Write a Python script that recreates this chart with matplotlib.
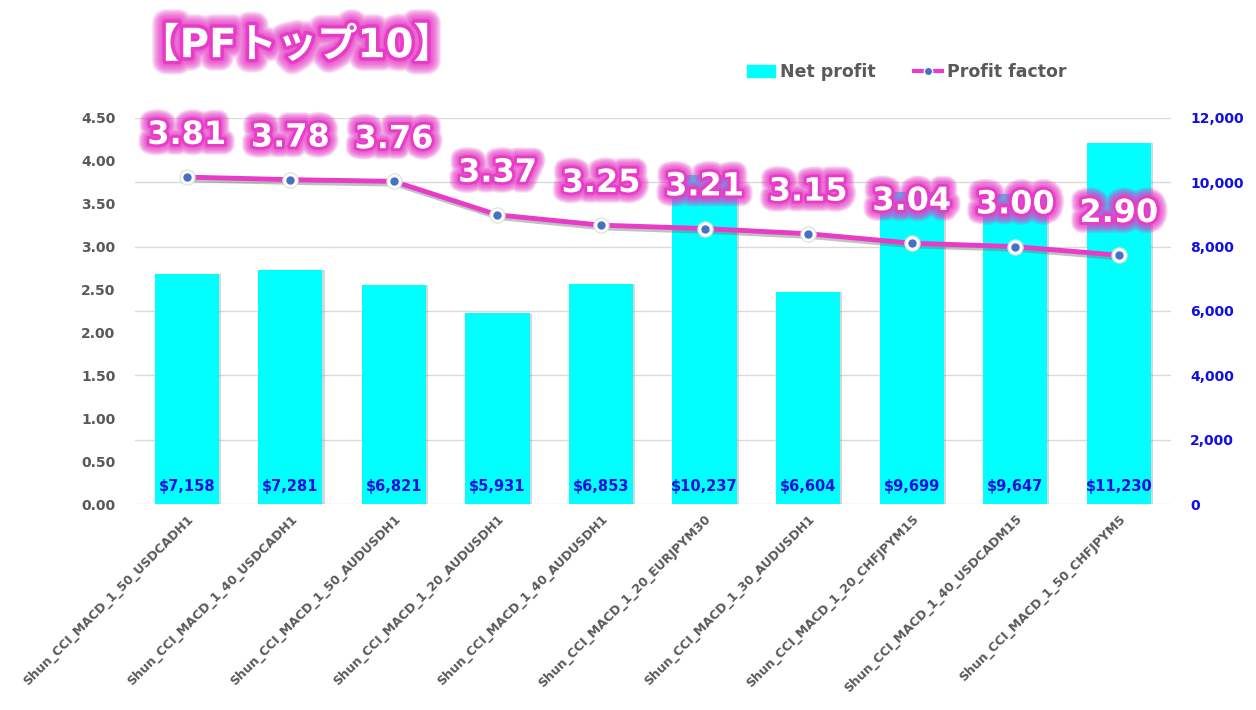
import matplotlib.pyplot as plt
import matplotlib.patheffects as pe
from matplotlib.patches import Patch
from matplotlib.lines import Line2D
from matplotlib.ticker import FuncFormatter

plt.rcParams['font.family'] = ['DejaVu Sans', 'Noto Sans CJK JP']

strategies = [
    "Shun_CCI_MACD_1_50_USDCADH1",
    "Shun_CCI_MACD_1_40_USDCADH1",
    "Shun_CCI_MACD_1_50_AUDUSDH1",
    "Shun_CCI_MACD_1_20_AUDUSDH1",
    "Shun_CCI_MACD_1_40_AUDUSDH1",
    "Shun_CCI_MACD_1_20_EURJPYM30",
    "Shun_CCI_MACD_1_30_AUDUSDH1",
    "Shun_CCI_MACD_1_20_CHFJPYM15",
    "Shun_CCI_MACD_1_40_USDCADM15",
    "Shun_CCI_MACD_1_50_CHFJPYM5",
]
net_profit = [7158, 7281, 6821, 5931, 6853, 10237, 6604, 9699, 9647, 11230]
profit_factor = [3.81, 3.78, 3.76, 3.37, 3.25, 3.21, 3.15, 3.04, 3.00, 2.90]

MAGENTA = "#E83BC8"
CYAN = "#00FFFF"
GRAY = "#595959"
BLUE = "#1010E0"
DOT = "#4472C4"


def glow(color, width=14, steps=12, core=4):
    # soft halo: many wide strokes with low alpha, then a solid core outline
    effects = []
    for i in range(steps, 0, -1):
        w = core + (width - core) * i / steps
        effects.append(pe.Stroke(linewidth=w, foreground=color, alpha=0.12, joinstyle="round"))
    effects.append(pe.Stroke(linewidth=core, foreground=color, joinstyle="round"))
    effects.append(pe.Normal())
    return effects


fig = plt.figure(figsize=(12.56, 7.10), dpi=100)
ax = fig.add_axes([0.1075, 0.290, 0.8245, 0.544])
ax2 = ax.twinx()
ax.set_zorder(ax2.get_zorder() + 1)
ax.patch.set_visible(False)

x = list(range(len(strategies)))

# bars on the right axis
ax2.bar(x, net_profit, width=0.62, color=CYAN, zorder=2,
        path_effects=[pe.SimplePatchShadow(offset=(1.5, -0.5), shadow_rgbFace="#999999", alpha=0.4),
                      pe.Normal()])
ax2.set_ylim(0, 12000)
ax2.set_yticks(range(0, 12001, 2000))
ax2.yaxis.set_major_formatter(FuncFormatter(lambda v, p: f"{int(v):,}"))
ax2.grid(axis="y", color="#d9d9d9", linewidth=1)
ax2.set_axisbelow(True)
for lbl in ax2.get_yticklabels():
    lbl.set_fontweight("bold")
ax2.tick_params(axis="y", colors=BLUE, labelsize=10, length=0, pad=14)

for xi, v in zip(x, net_profit):
    ax2.annotate(f"${v:,}", (xi, 0), xytext=(0, 7), textcoords="offset points",
                 ha="center", va="bottom", color=BLUE, fontsize=10.5, fontweight="bold")

# profit factor line on the left axis
ax.plot(x, profit_factor, color=MAGENTA, linewidth=3.5, zorder=3,
        path_effects=[pe.SimpleLineShadow(offset=(1.2, -2), shadow_color="#777777", alpha=0.45),
                      pe.Normal()])
ax.plot(x, profit_factor, linestyle="none", marker="o", markersize=11,
        markerfacecolor="white", markeredgecolor="#dddddd", markeredgewidth=0.8, zorder=4)
ax.plot(x, profit_factor, linestyle="none", marker="o", markersize=5,
        markerfacecolor=DOT, markeredgecolor=DOT, zorder=5)
ax.set_ylim(0, 4.5)
ax.set_yticks([i * 0.5 for i in range(10)])
ax.yaxis.set_major_formatter(FuncFormatter(lambda v, p: f"{v:.2f}"))
ax.set_xlim(-0.5, len(strategies) - 0.5)

for xi, v in zip(x, profit_factor):
    ax.annotate(f"{v:.2f}", (xi, v), xytext=(0, 30), textcoords="offset points",
                ha="center", va="center", color="white", fontsize=23, fontweight="bold",
                path_effects=glow(MAGENTA, width=16), zorder=6)

ax.set_xticks(x)
ax.set_xticklabels(strategies, rotation=45, ha="right", rotation_mode="anchor",
                   fontsize=9, fontweight="bold", color=GRAY)
ax.tick_params(axis="x", length=0, pad=6)
ax.tick_params(axis="y", colors=GRAY, labelsize=10, length=0, pad=14)
for lbl in ax.get_yticklabels():
    lbl.set_fontweight("bold")

for a in (ax, ax2):
    for s in a.spines.values():
        s.set_visible(False)

# title
fig.text(0.236, 0.935, "【PFトップ10】", ha="center", va="center", color="white",
         fontsize=29, fontweight="bold", family=["DejaVu Sans", "Noto Sans CJK JP"],
         path_effects=glow(MAGENTA, width=20, core=5))

# legend
handles = [
    Patch(facecolor=CYAN, edgecolor=CYAN),
    Line2D([0], [0], color=MAGENTA, linewidth=3, marker="o", markersize=6,
           markerfacecolor=DOT, markeredgecolor="white"),
]
leg = fig.legend(handles, ["Net profit", "Profit factor"], loc="center",
                 bbox_to_anchor=(0.722, 0.899), ncol=2, frameon=False,
                 handlelength=1.6, handletextpad=0.3, columnspacing=2.2,
                 prop={"size": 12.5, "weight": "bold"})
for t in leg.get_texts():
    t.set_color(GRAY)

fig.savefig("out.png", dpi=100)
